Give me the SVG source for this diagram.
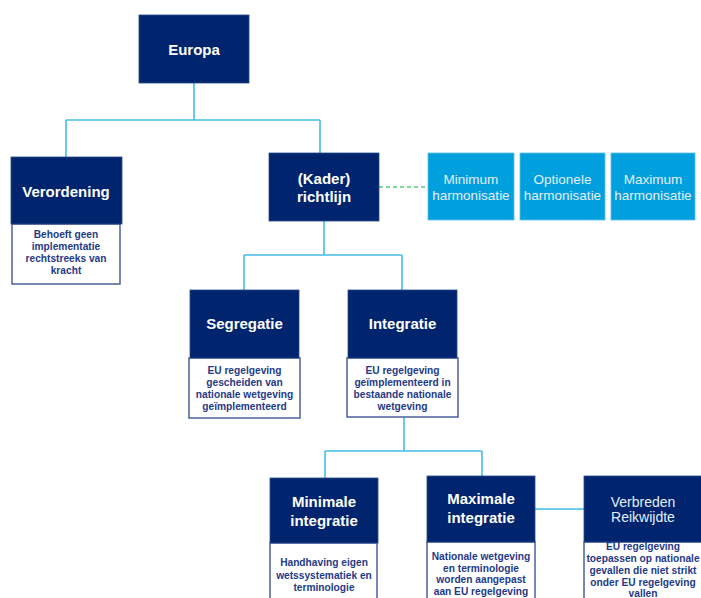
<svg xmlns="http://www.w3.org/2000/svg" width="701" height="598" viewBox="0 0 701 598">
<style>
.dk{fill:#00256E;stroke:#2a4a8a;stroke-width:0.8}
.lb{fill:#009FDE;stroke:#5cc0ea;stroke-width:0.8}
.sub{fill:#ffffff;stroke:#4b5f9c;stroke-width:1.5}
.t{font-family:"Liberation Sans",Arial,sans-serif;text-anchor:middle}
.h{font-size:15px;font-weight:bold;fill:#ffffff}
.hr{font-size:13.5px;fill:#e6eef7}
.s{font-size:10.2px;font-weight:bold;fill:#1f3a88}
.c{fill:none;stroke:#45BDE8;stroke-width:1.6}
</style>
<rect width="701" height="598" fill="#ffffff"/>
<g id="connectors">
<path class="c" d="M194 83V120M66 120H320M66 120V157M320 120V153"/>
<path class="c" d="M324 221V255M244 255H402M244 255V290M402 255V290"/>
<path class="c" d="M404 417V451M325 451H482M325 451V478M482 451V476"/>
<path class="c" d="M535 509H584"/>
<path d="M379 187H428" fill="none" stroke="#5ACB7A" stroke-width="1.6" stroke-dasharray="4,3"/>
</g>
<g id="europa">
<rect class="dk" x="139" y="15" width="110" height="68"/>
<text class="t h" x="194" y="55">Europa</text>
</g>
<g id="verordening">
<rect class="sub" x="12" y="224" width="108" height="60"/>
<rect class="dk" x="11" y="157" width="111" height="67"/>
<text class="t h" x="66" y="197">Verordening</text>
<text class="t s"><tspan x="66" y="238">Behoeft geen</tspan><tspan x="66" y="250">implementatie</tspan><tspan x="66" y="262">rechtstreeks van</tspan><tspan x="66" y="274">kracht</tspan></text>
</g>
<g id="kader">
<rect class="dk" x="269" y="153" width="110" height="68"/>
<text class="t h"><tspan x="324" y="184">(Kader)</tspan><tspan x="324" y="202">richtlijn</tspan></text>
</g>
<g id="minimum">
<rect class="lb" x="428" y="153" width="86" height="67"/>
<text class="t hr"><tspan x="471" y="184">Minimum</tspan><tspan x="471" y="200">harmonisatie</tspan></text>
</g>
<g id="optionele">
<rect class="lb" x="520" y="153" width="85" height="67"/>
<text class="t hr"><tspan x="562.5" y="184">Optionele</tspan><tspan x="562.5" y="200">harmonisatie</tspan></text>
</g>
<g id="maximum">
<rect class="lb" x="611" y="153" width="84" height="67"/>
<text class="t hr"><tspan x="653" y="184">Maximum</tspan><tspan x="653" y="200">harmonisatie</tspan></text>
</g>
<g id="segregatie">
<rect class="sub" x="189" y="358" width="111" height="60"/>
<rect class="dk" x="190" y="290" width="109" height="68"/>
<text class="t h" x="244.5" y="329">Segregatie</text>
<text class="t s"><tspan x="244.5" y="374">EU regelgeving</tspan><tspan x="244.5" y="386">gescheiden van</tspan><tspan x="244.5" y="398">nationale wetgeving</tspan><tspan x="244.5" y="410">geïmplementeerd</tspan></text>
</g>
<g id="integratie">
<rect class="sub" x="347" y="358" width="111" height="59"/>
<rect class="dk" x="348" y="290" width="109" height="68"/>
<text class="t h" x="402.5" y="329">Integratie</text>
<text class="t s"><tspan x="402.5" y="374">EU regelgeving</tspan><tspan x="402.5" y="386">geïmplementeerd in</tspan><tspan x="402.5" y="398">bestaande nationale</tspan><tspan x="402.5" y="410">wetgeving</tspan></text>
</g>
<g id="minimale">
<rect class="sub" x="270" y="543" width="107" height="60"/>
<rect class="dk" x="270" y="478" width="108" height="65"/>
<text class="t h"><tspan x="324" y="507">Minimale</tspan><tspan x="324" y="526">integratie</tspan></text>
<text class="t s"><tspan x="324" y="566">Handhaving eigen</tspan><tspan x="324" y="579">wetssystematiek en</tspan><tspan x="324" y="591">terminologie</tspan></text>
</g>
<g id="maximale">
<rect class="sub" x="427" y="542" width="108" height="60"/>
<rect class="dk" x="427" y="476" width="108" height="66"/>
<text class="t h"><tspan x="481" y="504">Maximale</tspan><tspan x="481" y="523">integratie</tspan></text>
<text class="t s"><tspan x="481" y="560">Nationale wetgeving</tspan><tspan x="481" y="572">en terminologie</tspan><tspan x="481" y="583">worden aangepast</tspan><tspan x="481" y="595">aan EU regelgeving</tspan></text>
</g>
<g id="verbreden">
<rect class="sub" x="584" y="542" width="120" height="60"/>
<rect class="dk" x="584" y="476" width="120" height="66"/>
<text class="t hr" style="font-size:14px"><tspan x="643" y="507">Verbreden</tspan><tspan x="643" y="522">Reikwijdte</tspan></text>
<text class="t s"><tspan x="643" y="550">EU regelgeving</tspan><tspan x="643" y="562">toepassen op nationale</tspan><tspan x="643" y="574">gevallen die niet strikt</tspan><tspan x="643" y="586">onder EU regelgeving</tspan><tspan x="643" y="597">vallen</tspan></text>
</g>
</svg>
